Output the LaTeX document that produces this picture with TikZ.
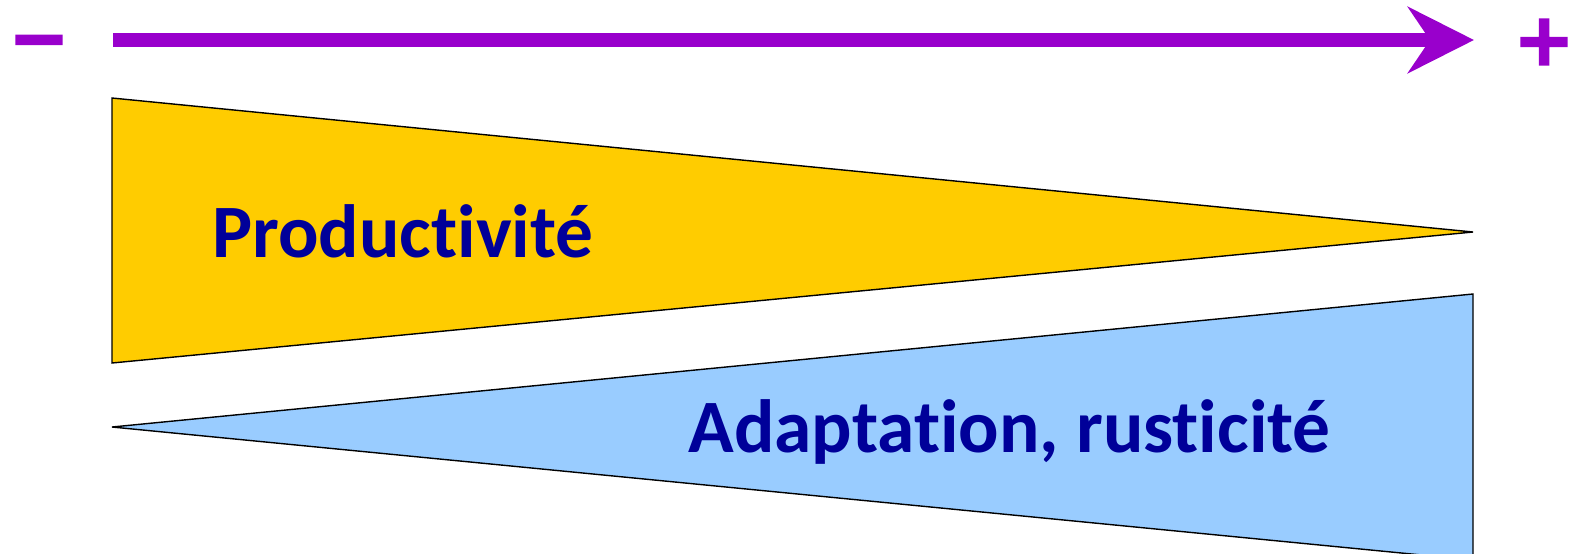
\documentclass[tikz,border=0pt]{standalone}
\usepackage{fontspec}
\setmainfont{Carlito}[Ligatures=NoCommon]
\newfontfamily\signfont[FakeBold=3]{DejaVu Sans}
\usetikzlibrary{arrows.meta}
\definecolor{axis}{HTML}{9900CC}
\definecolor{gold}{HTML}{FFCC00}
\definecolor{sky}{HTML}{99CCFF}
\definecolor{ink}{HTML}{000099}

\begin{document}
\begin{tikzpicture}[x=0.5pt,y=-0.5pt,
                    wedge/.style={draw=black,line width=0.7pt},
                    label/.style={inner sep=0pt,anchor=base west,text=ink,
                                  font=\bfseries\fontsize{37.7}{40}\selectfont},
                    sign/.style={inner sep=0pt,text=axis,
                                 font=\signfont\bfseries\fontsize{36}{36}\selectfont}]

  \useasboundingbox (0,0) rectangle (1583,553);

  \coordinate (start) at (113,40);
  \coordinate (end)   at (1474,40);
  \node[sign] (minus) at (39,49)   {−};
  \node[sign] (plus)  at (1544,42) {+};

  \path (start) edge [axis,line width=7pt,
                      -{Stealth[length=33pt,width=33pt,inset=11pt]}] (end);

  \filldraw[wedge,fill=gold] (112,98) -- (1473,232) -- (112,363) -- cycle;
  \filldraw[wedge,fill=sky]  (112,427) -- (1473,294) -- (1473,560) -- cycle;

  \node[label] (prod)  at (212,257) {Productivité};
  \node[label] (adapt) at (688,452) {Adaptation, rusticité};
\end{tikzpicture}
\end{document}
